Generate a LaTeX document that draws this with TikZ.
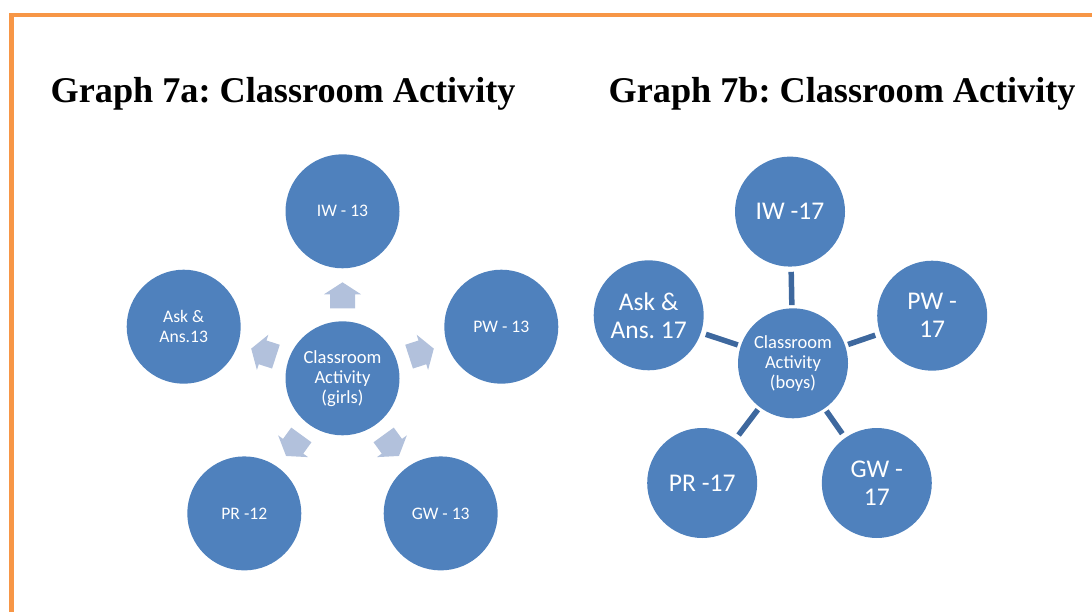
\documentclass[tikz,border=0pt]{standalone}
\usepackage{fontspec}
\setmainfont{Liberation Serif}
\newfontfamily\calfont{Carlito}
\frenchspacing
\definecolor{cblue}{RGB}{79,129,189}
\definecolor{arrowblue}{RGB}{178,193,220}
\definecolor{connblue}{RGB}{62,104,158}
\definecolor{borderorange}{RGB}{247,150,70}
\tikzset{
  circ/.style={circle, fill=cblue, text=white, inner sep=0pt, align=center, font=\calfont},
  circa/.style={circ, minimum size=114pt, font=\calfont\fontsize{17.6}{19.5}\selectfont},
  circca/.style={circ, minimum size=114pt, font=\calfont\fontsize{18.5}{20}\selectfont},
  circb/.style={circ, minimum size=110pt, font=\calfont\fontsize{25.5}{28}\selectfont},
  circcb/.style={circ, minimum size=110pt, font=\calfont\fontsize{18.5}{20}\selectfont},
  conn/.style={draw=connblue, line width=5.5pt, shorten <=3pt, shorten >=5pt},
  arrowshape/.style={fill=arrowblue},
  titletext/.style={anchor=base west, inner sep=0pt, font=\bfseries\fontsize{36.2}{40}\selectfont},
}
\begin{document}
\begin{tikzpicture}[x=1pt,y=-1pt]
\useasboundingbox (0,0) rectangle (1092,612);
% border
\draw[borderorange, line width=4.5pt] (11.5,612) -- (11.5,15) -- (1092,15);
% titles
\node[titletext] (ta) at (50.5,102.5) {Graph 7a: Classroom Activity};
\node[titletext] (tb) at (608.5,102.5) {Graph 7b: Classroom Activity};
% graph 7a
\node[circca] (ca) at (342.5,378.3) {Classroom\\Activity\\(girls)};
\node[circa] (iwa) at (342.5,211.3) {IW - 13};
\node[circa] (pwa) at (501.3,326.7) {PW - 13};
\node[circa] (aska) at (183.7,326.7) {Ask \&\\Ans.13};
\node[circa] (gwa) at (440.7,513.4) {GW - 13};
\node[circa] (pra) at (244.3,513.4) {PR -12};
\foreach \ang in {90,18,162,-54,-126}{
  \begin{scope}[shift={(ca.center)}, rotate=\ang]
    \fill[arrowshape] (70,-12.5) -- (84,-12.5) -- (84,-18.5) -- (96,0) -- (84,18.5) -- (84,12.5) -- (70,12.5) -- cycle;
  \end{scope}
}
% graph 7b
\node[circcb] (cb) at (793,363.3) {Classroom\\Activity\\(boys)};
\node[circb] (iwb) at (790,211.6) {IW -17};
\node[circb] (askb) at (648.7,315.3) {Ask \&\\Ans. 17};
\node[circb] (pwb) at (932.2,315.7) {PW -\\17};
\node[circb] (prb) at (702.2,483) {PR -17};
\node[circb] (gwb) at (876.8,483) {GW -\\17};
\draw[conn] (cb) -- (iwb);
\draw[conn] (cb) -- (askb);
\draw[conn] (cb) -- (pwb);
\draw[conn] (cb) -- (prb);
\draw[conn] (cb) -- (gwb);
\end{tikzpicture}
\end{document}
